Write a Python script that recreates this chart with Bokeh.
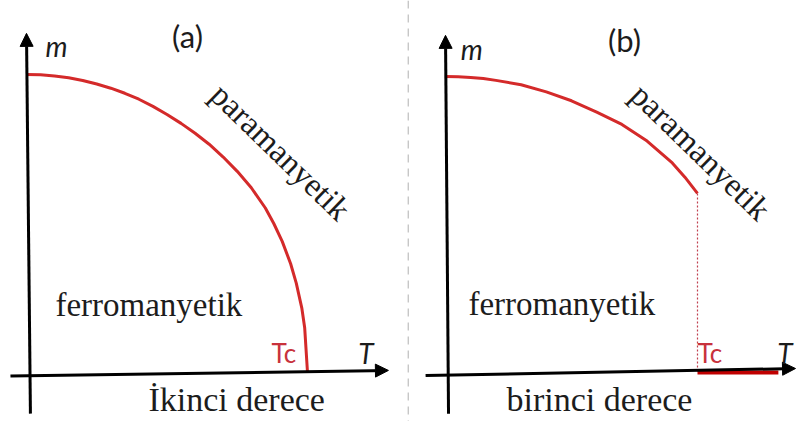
from bokeh.plotting import figure
from bokeh.models import Arrow, NormalHead, Label, Range1d, Span
from bokeh.layouts import row
from bokeh.embed import file_html
from bokeh.resources import INLINE

# Magnetisation m(T) for a second-order transition (a): vanishes continuously at Tc
t_second = [0.0, 0.05, 0.10, 0.15, 0.20, 0.25, 0.30, 0.35, 0.40, 0.45, 0.50, 0.55,
            0.60, 0.65, 0.70, 0.75, 0.80, 0.85, 0.88, 0.91, 0.94, 0.96, 0.98, 0.99, 1.0]
m_second = [1.0, 0.999, 0.995, 0.989, 0.980, 0.968, 0.954, 0.937, 0.917, 0.893, 0.866, 0.836,
            0.803, 0.766, 0.723, 0.675, 0.620, 0.552, 0.500, 0.440, 0.365, 0.300, 0.215, 0.150, 0.0]

# Magnetisation m(T) for a first-order transition (b): jumps to zero at Tc
t_first = [0.0, 0.05, 0.10, 0.15, 0.20, 0.30, 0.40, 0.50, 0.60, 0.70, 0.80, 0.90, 0.95, 1.0]
m_first = [1.0, 0.999, 0.997, 0.993, 0.987, 0.972, 0.948, 0.918, 0.880, 0.838, 0.782, 0.708,
           0.660, 0.605]

# Above Tc the first-order system sits at m = 0
t_para = [1.0, 1.321]
m_para = [0.0, 0.0]

RED = "#d42a2a"
TC_RED = "#c8323c"
INK = "#1c1c1c"
SERIF = "'Liberation Serif', 'Times New Roman', serif"
SANS = "Lato"


def make_panel(width, x0, x1, y0, y1):
    p = figure(width=width, height=421, output_backend="svg", toolbar_location=None,
               x_range=Range1d(x0, x1), y_range=Range1d(y0, y1), min_border=0,
               border_fill_color="white", background_fill_color="white")
    p.axis.visible = False
    p.grid.visible = False
    p.outline_line_color = None
    return p


def axes(p, y_axis, x_axis):
    for xs, ys, xe, ye in (y_axis, x_axis):
        p.add_layout(Arrow(end=NormalHead(size=13, fill_color="black", line_color="black",
                                          line_width=1),
                           x_start=xs, y_start=ys, x_end=xe, y_end=ye,
                           line_width=3, line_color="black"))


def label(p, x, y, text, font, size, color=INK, style="normal", align="left",
          baseline="alphabetic", angle=0.0):
    # nudge baseline-anchored labels so the drawn baseline sits on y
    px = int(size.replace("px", ""))
    off = 0 if baseline == "middle" else round(0.33 * px)
    p.add_layout(Label(x=x, y=y, y_offset=off, text=text, text_font=font,
                       text_font_size=size, text_color=color, text_font_style=style,
                       text_align=align, text_baseline=baseline, angle=angle))


# ---- (a) second order ----
pa = make_panel(406, -0.0925, 1.3523, -0.1644, 1.2483)
axes(pa, (0.014, -0.138, 0.0, 1.138), (-0.057, -0.012, 1.288, 0.007))
pa.line(t_second, m_second, line_color=RED, line_width=3)
label(pa, 0.573, 1.130, "(a)", SANS, "31px", align="center", baseline="middle")
label(pa, 0.068, 1.064, "m", SANS, "28px", style="italic")
label(pa, 0.904, 0.740, "paramanyetik", SERIF, "33px", align="center",
      baseline="middle", angle=-0.77)
label(pa, 0.103, 0.191, "ferromanyetik", SERIF, "33px")
label(pa, 0.872, 0.034, "Tc", SANS, "26px", color=TC_RED)
label(pa, 1.181, 0.034, "T", SANS, "28px", style="italic")
label(pa, 0.434, -0.128, "İkinci derece", SERIF, "34px")

# ---- (b) first order ----
pb = make_panel(390, -0.1548, 1.3929, -0.1655, 1.2568)
pb.add_layout(Span(location=-0.148, dimension="height", line_color="#b0b0b0",
                   line_width=1, line_dash="8 6"))
axes(pb, (0.012, -0.139, 0.0, 1.139), (-0.079, -0.010, 1.389, 0.0135))
pb.line(t_first, m_first, line_color=RED, line_width=3)
pb.line([t_first[-1], t_first[-1]], [m_first[-1], 0.0], line_color="#c04050",
        line_width=1.2, line_dash="2 2")
pb.line(t_para, m_para, line_color="#c00000", line_width=4)
label(pb, 0.710, 1.125, "(b)", SANS, "31px", align="center", baseline="middle")
label(pb, 0.060, 1.064, "m", SANS, "28px", style="italic")
label(pb, 1.012, 0.745, "paramanyetik", SERIF, "33px", align="center",
      baseline="middle", angle=-0.77)
label(pb, 0.091, 0.193, "ferromanyetik", SERIF, "33px")
label(pb, 1.0, 0.034, "Tc", SANS, "26px", color=TC_RED)
label(pb, 1.317, 0.034, "T", SANS, "28px", style="italic")
label(pb, 0.242, -0.128, "birinci derece", SERIF, "34px")

layout = row(pa, pb, spacing=0)
open("out.html", "w").write(file_html(layout, INLINE))
